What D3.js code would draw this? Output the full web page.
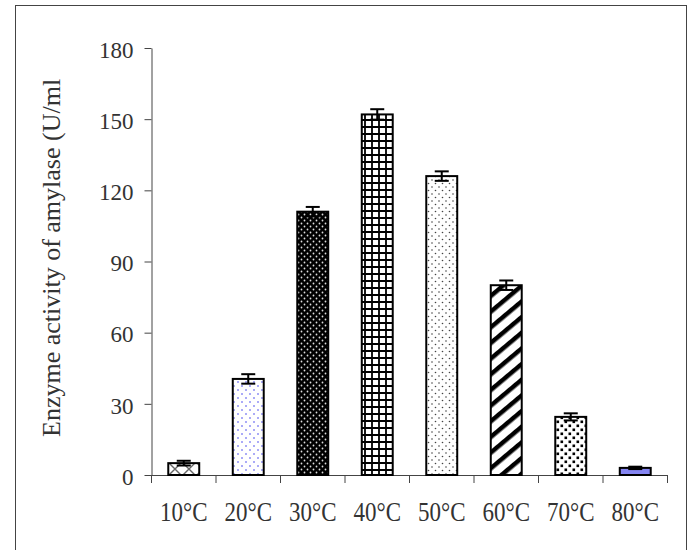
<!DOCTYPE html>
<html>
<head>
<meta charset="utf-8">
<script src="https://cdn.jsdelivr.net/npm/d3@7"></script>
<style>
  html, body { margin: 0; padding: 0; background: #fff; }
  svg { display: block; }
  svg text { font-family: "Liberation Serif", "Times New Roman", serif; fill: #333; }
</style>
</head>
<body>
<svg id="chart"></svg>
<script>
const W = 689, H = 550;

// ── Data ──
const categories = ['10°C', '20°C', '30°C', '40°C', '50°C', '60°C', '70°C', '80°C'];
const activity   = [5, 40.5, 111, 152, 126, 80, 24.5, 3];
const errors     = [1, 2, 2, 2.2, 2, 2, 1.5, 0.5];
const yTicks     = [0, 30, 60, 90, 120, 150, 180];

// fill pattern per bar (style only)
const fills = ['p-cross', 'p-bluedots', 'p-blackdots', 'p-grid', 'p-greydots', 'p-stripes', 'p-bigdots', null];

const svg = d3.select('#chart').attr('width', W).attr('height', H);

// ── Patterns ──
const defs = svg.append('defs');

function pattern(id, w, h) {
    return defs.append('pattern')
        .attr('id', id)
        .attr('patternUnits', 'userSpaceOnUse')
        .attr('width', w)
        .attr('height', h);
}

let p = pattern('p-cross', 14, 14);
p.append('rect').attr('width', 14).attr('height', 14).attr('fill', '#fff');
p.append('path').attr('d', 'M0,0L14,14M14,0L0,14').attr('stroke', '#666').attr('stroke-width', 1.4);

p = pattern('p-bluedots', 8, 8);
p.append('rect').attr('width', 8).attr('height', 8).attr('fill', '#fff');
p.append('circle').attr('cx', 2).attr('cy', 2).attr('r', 1).attr('fill', '#8f8ff5');
p.append('circle').attr('cx', 6).attr('cy', 6).attr('r', 1).attr('fill', '#8f8ff5');

p = pattern('p-blackdots', 6, 6);
p.append('rect').attr('width', 6).attr('height', 6).attr('fill', '#000');
p.append('circle').attr('cx', 1.5).attr('cy', 1.5).attr('r', 0.9).attr('fill', '#ddd');
p.append('circle').attr('cx', 4.5).attr('cy', 4.5).attr('r', 0.9).attr('fill', '#ddd');

p = pattern('p-grid', 7, 7);
p.append('rect').attr('width', 7).attr('height', 7).attr('fill', '#fff');
p.append('path').attr('d', 'M1,0V7M0,1H7').attr('stroke', '#000').attr('stroke-width', 1.8);

p = pattern('p-greydots', 7, 7);
p.append('rect').attr('width', 7).attr('height', 7).attr('fill', '#fff');
p.append('circle').attr('cx', 1.5).attr('cy', 1.5).attr('r', 0.8).attr('fill', '#444');
p.append('circle').attr('cx', 5).attr('cy', 5).attr('r', 0.8).attr('fill', '#444');

p = pattern('p-stripes', 12, 12).attr('patternTransform', 'rotate(-40)');
p.append('rect').attr('width', 12).attr('height', 12).attr('fill', '#fff');
p.append('rect').attr('width', 12).attr('height', 4.5).attr('fill', '#000');

p = pattern('p-bigdots', 8, 8);
p.append('rect').attr('width', 8).attr('height', 8).attr('fill', '#fff');
p.append('rect').attr('x', 0.5).attr('y', 0.5).attr('width', 2.6).attr('height', 2.6).attr('fill', '#000');
p.append('rect').attr('x', 4.5).attr('y', 4.5).attr('width', 2.6).attr('height', 2.6).attr('fill', '#000');

// ── Frame ──
svg.append('rect')
    .attr('x', 15.5).attr('y', 5.5)
    .attr('width', 671).attr('height', 560)
    .attr('fill', 'none').attr('stroke', '#444').attr('stroke-width', 1);

// ── Scales ──
const x = d3.scaleBand().domain(categories).range([151.5, 667.5]).paddingInner(0.52).paddingOuter(0.26);
const y = d3.scaleLinear().domain([0, 180]).range([475, 48]);

// ── Axes ──
const yAxis = svg.append('g')
    .attr('transform', 'translate(151.5,0)')
    .call(d3.axisLeft(y).tickValues(yTicks).tickSize(7).tickSizeOuter(0).tickPadding(11));
yAxis.attr('font-family', null).attr('font-size', null);
yAxis.select('.domain').attr('stroke', '#444');
yAxis.selectAll('.tick line').attr('stroke', '#444');
yAxis.selectAll('.tick text')
    .style('font-size', '23px')
    .style('font-family', '"Liberation Serif", serif')
    .style('fill', '#333')
    .attr('dy', '0.4em');

// x axis line and boundary ticks
const xRange = x.range();
svg.append('line')
    .attr('x1', 145).attr('x2', xRange[1])
    .attr('y1', y(0) + 0.5).attr('y2', y(0) + 0.5)
    .attr('stroke', '#444');

const bounds = categories.map((c, i) => xRange[0] + i * (xRange[1] - xRange[0]) / categories.length)
    .concat([xRange[1]]);
svg.append('g').selectAll('line')
    .data(bounds)
    .join('line')
    .attr('x1', d => d).attr('x2', d => d)
    .attr('y1', y(0)).attr('y2', y(0) + 8)
    .attr('stroke', '#444');

svg.append('g').selectAll('text')
    .data(categories)
    .join('text')
    .attr('transform', d => `translate(${x(d) + x.bandwidth() / 2},521) scale(1,1.15)`)
    .attr('text-anchor', 'middle')
    .style('font-size', '23px')
    .text(d => d);

// y axis title
svg.append('text')
    .attr('transform', 'translate(60,437) rotate(-90)')
    .attr('text-anchor', 'start')
    .style('font-size', '26px')
    .text('Enzyme activity of amylase (U/ml');

// ── Bars ──
const rows = categories.map((c, i) => ({ c, v: activity[i], e: errors[i], fill: fills[i] }));

svg.append('g').selectAll('rect')
    .data(rows)
    .join('rect')
    .attr('x', d => x(d.c))
    .attr('y', d => y(d.v))
    .attr('width', x.bandwidth())
    .attr('height', d => y(0) - y(d.v))
    .attr('fill', d => d.fill ? `url(#${d.fill})` : '#8585f2')
    .attr('stroke', '#000')
    .attr('stroke-width', 2);

// ── Error bars ──
const capW = 7;
const err = svg.append('g').attr('stroke', '#000').attr('stroke-width', 2);
err.selectAll('.stem')
    .data(rows)
    .join('line')
    .attr('class', 'stem')
    .attr('x1', d => x(d.c) + x.bandwidth() / 2)
    .attr('x2', d => x(d.c) + x.bandwidth() / 2)
    .attr('y1', d => y(d.v + d.e))
    .attr('y2', d => y(d.v - d.e));
err.selectAll('.cap')
    .data(rows.flatMap(d => [{ d, v: d.v + d.e }, { d, v: d.v - d.e }]))
    .join('line')
    .attr('class', 'cap')
    .attr('x1', k => x(k.d.c) + x.bandwidth() / 2 - capW)
    .attr('x2', k => x(k.d.c) + x.bandwidth() / 2 + capW)
    .attr('y1', k => y(k.v))
    .attr('y2', k => y(k.v));
</script>
</body>
</html>
